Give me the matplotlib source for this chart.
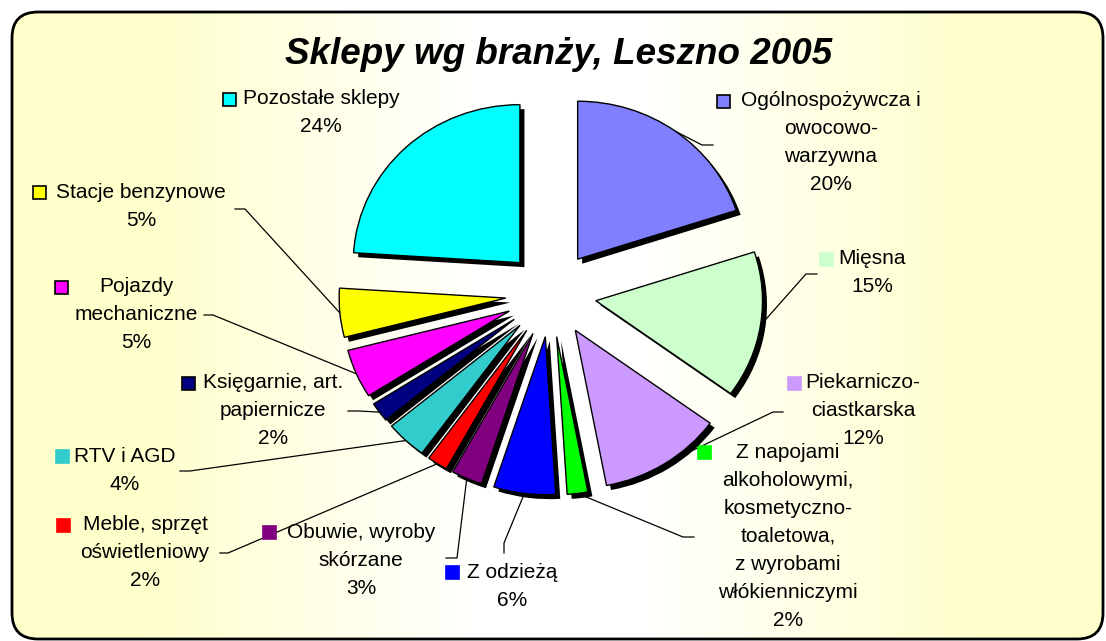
import numpy as np
import matplotlib
matplotlib.use('Agg')
import matplotlib.pyplot as plt
from matplotlib.patches import FancyBboxPatch, Rectangle

plt.rcParams['font.family'] = ['Liberation Sans', 'DejaVu Sans']

W, H = 1106, 641

# dane - sklepy wg branzy, Leszno 2005
nazwy = ['Ogólnospożywcza i\nowocowo-\nwarzywna',
         'Mięsna',
         'Piekarniczo-\nciastkarska',
         'Z napojami\nalkoholowymi,\nkosmetyczno-\ntoaletowa,\nz wyrobami\nwłókienniczymi',
         'Z odzieżą',
         'Obuwie, wyroby\nskórzane',
         'Meble, sprzęt\noświetleniowy',
         'RTV i AGD',
         'Księgarnie, art.\npapiernicze',
         'Pojazdy\nmechaniczne',
         'Stacje benzynowe',
         'Pozostałe sklepy']
udzial = [20, 15, 12, 2, 6, 3, 2, 4, 2, 5, 5, 24]
kolory = ['#8080FF', '#CCFFCC', '#CC99FF', '#00FF00', '#0000FF', '#800080',
          '#FF0000', '#33CCCC', '#000080', '#FF00FF', '#FFFF00', '#00FFFF']

# polozenie etykiet w pikselach (x srodka, y pierwszej linii od gory, x kwadracika)
etyk_x = [831, 872, 863, 788, 512, 361, 145, 125, 273, 136, 141, 321]
etyk_y = [101, 259, 383, 452, 572, 532, 525, 456, 383, 287, 192, 99]
kwadr_x = [723, 826, 794, 704, 452, 269, 63, 62, 188, 61, 39, 229]
obwodka = [True, False, False, False, False, False, False, False, True, True, True, True]
# linie odniesienia: koniec przy tekscie i zalamanie
linie = [((713, 145), (702, 145)), ((817, 274), (806, 274)), ((783, 412), (773, 412)),
         ((694, 537), (683, 537)), ((504, 553), (504, 543)), ((446, 558), (457, 558)),
         ((220, 553), (228, 553)), ((180, 471), (190, 471)), ((348, 411), (359, 411)),
         ((204, 315), (213, 315)), ((235, 209), (245, 209)), None]

R = 158
S = 1.055          # kolo lekko rozciagniete w poziomie
CX, CY = 551, H - 294
EXPL = 43
SH = 4.5
KROK = 28

fig = plt.figure(figsize=(W / 100, H / 100), dpi=100)
ax = fig.add_axes([0, 0, 1, 1])

# tlo z gradientem w zaokraglonej ramce
xs = np.linspace(0, W, 800)
t = np.clip((np.abs(xs - 560) - 80) / 340, 0, 1)
zolty = np.array([1.0, 1.0, 0.8])
img = (np.ones(3)[None, :] * (1 - t)[:, None] + zolty[None, :] * t[:, None])[None, :, :]
im = ax.imshow(img, extent=(0, W, 0, H), aspect='auto', zorder=0, interpolation='bilinear')
ramka = FancyBboxPatch((12, 2), 1091, 627, boxstyle='round,pad=0,rounding_size=26',
                       fc='none', ec='black', lw=2, zorder=1)
ax.add_patch(ramka)
im.set_clip_path(ramka)

# osobna os dla kola (skala pozioma S)
ax2 = fig.add_axes([0, 0, 1, 1])
ax2.patch.set_visible(False)
n = len(udzial)
ax2.pie(udzial, radius=R, center=((CX + SH) / S, CY - SH), explode=[EXPL] * n, startangle=90,
        counterclock=False, colors=['black'] * n, wedgeprops=dict(linewidth=0, zorder=2))
wedges, _ = ax2.pie(udzial, radius=R, center=(CX / S, CY), explode=[EXPL] * n, startangle=90,
                    counterclock=False, colors=kolory,
                    wedgeprops=dict(edgecolor='black', linewidth=1, zorder=3))
ax2.set_xlim(0, W / S)
ax2.set_ylim(0, H)
ax2.set_aspect('auto')
ax2.axis('off')

for i, w in enumerate(wedges):
    linie_txt = nazwy[i].split('\n') + [f'{udzial[i]}%']
    for k, s in enumerate(linie_txt):
        ax.text(etyk_x[i], H - (etyk_y[i] + k * KROK), s, ha='center', va='center',
                fontsize=15, zorder=5)
    ax.add_patch(Rectangle((kwadr_x[i] - 6.5, H - etyk_y[i] - 6.5), 13, 13, fc=kolory[i],
                           ec='black' if obwodka[i] else kolory[i], lw=1.2, zorder=5))
    if linie[i] is not None:
        th = np.deg2rad((w.theta1 + w.theta2) / 2)
        px = (w.center[0] + w.r * np.cos(th)) * S
        py = w.center[1] + w.r * np.sin(th)
        (x1, y1), (x2, y2) = linie[i]
        ax.plot([x1, x2, px], [H - y1, H - y2, py], color='black', lw=0.9, zorder=4)

ax.text(559, H - 55, 'Sklepy wg branży, Leszno 2005', ha='center', va='center',
        fontsize=26.5, fontweight='bold', fontstyle='italic', zorder=5)

ax.set_xlim(0, W)
ax.set_ylim(0, H)
ax.set_aspect('auto')
ax.axis('off')
fig.savefig('out.png', dpi=100, facecolor='white')
